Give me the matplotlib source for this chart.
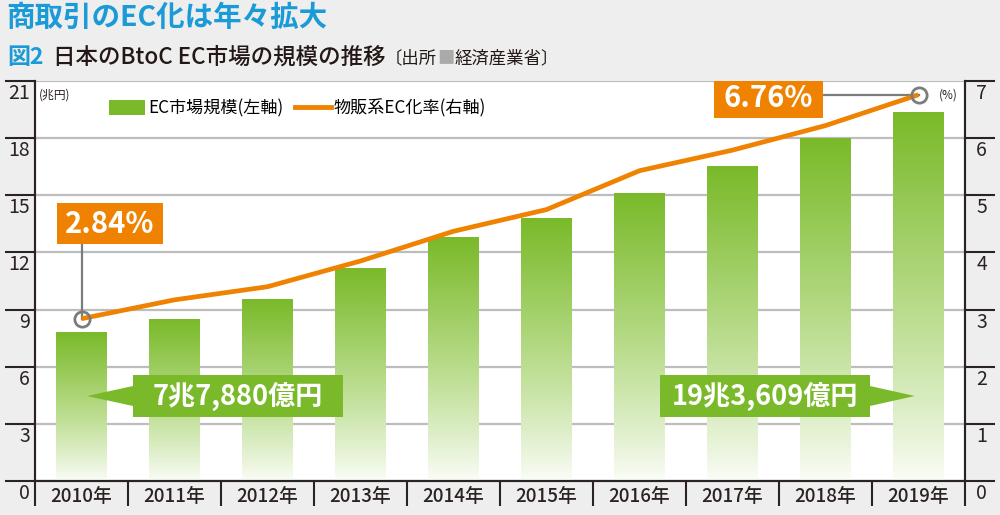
import numpy as np
import matplotlib
matplotlib.use("Agg")
import matplotlib.pyplot as plt
import matplotlib.transforms as mtransforms
from matplotlib.colors import LinearSegmentedColormap
from matplotlib.patches import Patch, Rectangle
from matplotlib.lines import Line2D

plt.rcParams['font.family'] = ['Noto Sans CJK JP', 'DejaVu Sans']

# data (METI, BtoC EC market)
years = ['2010年', '2011年', '2012年', '2013年', '2014年',
         '2015年', '2016年', '2017年', '2018年', '2019年']
market_trillion_yen = [7.788, 8.46, 9.51, 11.16, 12.80, 13.78, 15.11, 16.51, 17.98, 19.36]
ec_rate_pct = [2.84, 3.17, 3.40, 3.85, 4.37, 4.75, 5.43, 5.79, 6.22, 6.76]
left_ticks = [0, 3, 6, 9, 12, 15, 18, 21]
right_ticks = [0, 1, 2, 3, 4, 5, 6, 7]
first_label = '7兆7,880億円'
last_label = '19兆3,609億円'

GREEN = '#7aba2a'
ORANGE = '#ef8200'
BLUE = '#1a9ad7'
DARK = '#2b2222'
GRID = '#bdbdbd'
LEADER = '#7c7c7c'
BG = '#eeeeee'

fig = plt.figure(figsize=(10, 5.15), dpi=100, facecolor=BG)
ax = fig.add_axes([0.035, 34 / 515, 0.93, 400 / 515])
ax.set_facecolor('white')
ax2 = ax.twinx()

x = np.arange(len(years))

# bars with a top-to-bottom fade
bars = ax.bar(x, market_trillion_yen, width=0.54, color='none', zorder=2)
cmap = LinearSegmentedColormap.from_list('fade', ['#fbfdf8', '#b9dc8c', GREEN])
grad = np.linspace(0, 1, 256).reshape(-1, 1) ** 0.9
for b in bars:
    x0, w, h = b.get_x(), b.get_width(), b.get_height()
    ax.imshow(grad, extent=[x0, x0 + w, 0, h], origin='lower', cmap=cmap,
              aspect='auto', zorder=2, interpolation='bilinear')

ax.set_xlim(-0.5, len(years) - 0.5)
ax.set_ylim(0, 21)
ax.set_yticks(left_ticks)
ax.yaxis.grid(True, color=GRID, lw=1.6)
ax.set_axisbelow(True)

# x axis: labels at centres, separators between
ax.set_xticks(x)
ax.set_xticklabels(years, fontsize=13.5, fontweight='medium', color=DARK)
ax.set_xticks(np.arange(-0.5, len(years), 1), minor=True)
ax.tick_params(axis='x', which='major', length=0, pad=4)
ax.tick_params(axis='x', which='minor', length=18, width=1.5, color=DARK, direction='out')

# y axes: long ticks, numbers tucked under them
ax.tick_params(axis='y', length=21.5, width=1.5, color=DARK, labelleft=False)
for v in left_ticks:
    ax.annotate(str(v), xy=(0, v), xycoords=('axes fraction', 'data'),
                xytext=(-3.5, -9), textcoords='offset points', ha='right', va='center',
                fontsize=14, color=DARK, annotation_clip=False)

ax2.set_ylim(0, 7)
ax2.set_yticks(right_ticks)
ax2.tick_params(axis='y', length=21.5, width=1.5, color=DARK, labelright=False)
for v in right_ticks:
    ax2.annotate(str(v), xy=(1, v), xycoords=('axes fraction', 'data'),
                 xytext=(12, -9), textcoords='offset points', ha='center', va='center',
                 fontsize=14, color=DARK, annotation_clip=False)

for a in (ax, ax2):
    a.spines['top'].set_visible(False)
    for s in ('left', 'right', 'bottom'):
        a.spines[s].set_color(DARK)
        a.spines[s].set_linewidth(1.5)

# EC rate line
ax2.plot(x, ec_rate_pct, color=ORANGE, lw=3.4, zorder=3, solid_capstyle='butt')
ax2.plot([x[0], x[-1]], [ec_rate_pct[0], ec_rate_pct[-1]], 'o', ms=11, mfc='none',
         mec=LEADER, mew=2, zorder=4)


def box_size(a, w_px, h_px):
    # pixel size -> data size on axis a
    xs = np.diff(a.get_xlim())[0] / a.bbox.width
    ys = np.diff(a.get_ylim())[0] / a.bbox.height
    return w_px * xs, h_px * ys


def callout(cx, cy, text, color, w_px, h_px, size):
    w, h = box_size(ax2, w_px, h_px)
    ax2.add_patch(Rectangle((cx - w / 2, cy - h / 2), w, h, fc=color, ec='none', zorder=5))
    ax2.text(cx, cy, text, ha='center', va='center', color='white', fontsize=size,
             fontweight='bold', zorder=6)
    return cx - w / 2, cx + w / 2, cy - h / 2


# rate callouts
_, _, bottom = callout(0.306, 4.506, f'{ec_rate_pct[0]:.2f}%', ORANGE, 106, 41, 21)
ax2.plot([x[0], x[0]], [ec_rate_pct[0], bottom], color=LEADER, lw=1.6, zorder=2)
_, right, _ = callout(7.387, 6.70, f'{ec_rate_pct[-1]:.2f}%', ORANGE, 109, 40, 21)
ax2.plot([right, x[-1]], [ec_rate_pct[-1], ec_rate_pct[-1]], color=LEADER, lw=1.6, zorder=2)

# market size callouts with arrow heads
_, th = box_size(ax2, 0, 10)
left, _, _ = callout(1.683, 1.4875, first_label, GREEN, 210, 42, 19.5)
ax2.fill([0.059, left, left], [1.4875, 1.4875 + th, 1.4875 - th], color=GREEN, zorder=5, lw=0)
_, right, _ = callout(7.349, 1.4875, last_label, GREEN, 210, 42, 19.5)
ax2.fill([8.96, right, right], [1.4875, 1.4875 + th, 1.4875 - th], color=GREEN, zorder=5, lw=0)

# legend
handles = [Patch(facecolor=GREEN, edgecolor='none'),
           Line2D([], [], color=ORANGE, lw=3.5)]
ax2.legend(handles, ['EC市場規模(左軸)', '物販系EC化率(右軸)'], loc='center left',
           bbox_to_anchor=(0.080, 0.932), ncol=2, frameon=False, fontsize=12.3,
           handlelength=2.1, handleheight=1.0, handletextpad=0.15, columnspacing=0.7,
           borderaxespad=0, borderpad=0)

# unit labels
ax.text(0.004, 0.965, '(兆円)', transform=ax.transAxes, fontsize=8.5, color=DARK,
        ha='left', va='center')
ax2.text(0.982, 0.965, '(%)', transform=ax2.transAxes, fontsize=8.5, color=DARK,
         ha='center', va='center')

# titles, placed in pixel units one run after another
px = mtransforms.IdentityTransform()
renderer = fig.canvas.get_renderer()


def run(parts, x0, y_top):
    cur = x0
    for s, kw in parts:
        t = fig.text(cur, 515 - y_top, s, transform=px, va='center', ha='left', **kw)
        cur = t.get_window_extent(renderer).x1
    return cur


run([('商取引のEC化は年々拡大', dict(fontsize=20.5, fontweight='bold', color=BLUE))], 6, 18)
end = run([('図2', dict(fontsize=16.5, fontweight='bold', color=BLUE))], 7, 57)
end = run([('日本のBtoC EC市場の規模の推移', dict(fontsize=16.2, fontweight='medium', color='#231815'))], end + 10, 57)
run([('〔出所', dict(fontsize=12.5, color='#231815')),
     ('■', dict(fontsize=12.5, color='#aaaaaa')),
     ('経済産業省〕', dict(fontsize=12.5, color='#231815'))], end - 1, 58)

fig.savefig('out.png', dpi=100, facecolor=BG)
